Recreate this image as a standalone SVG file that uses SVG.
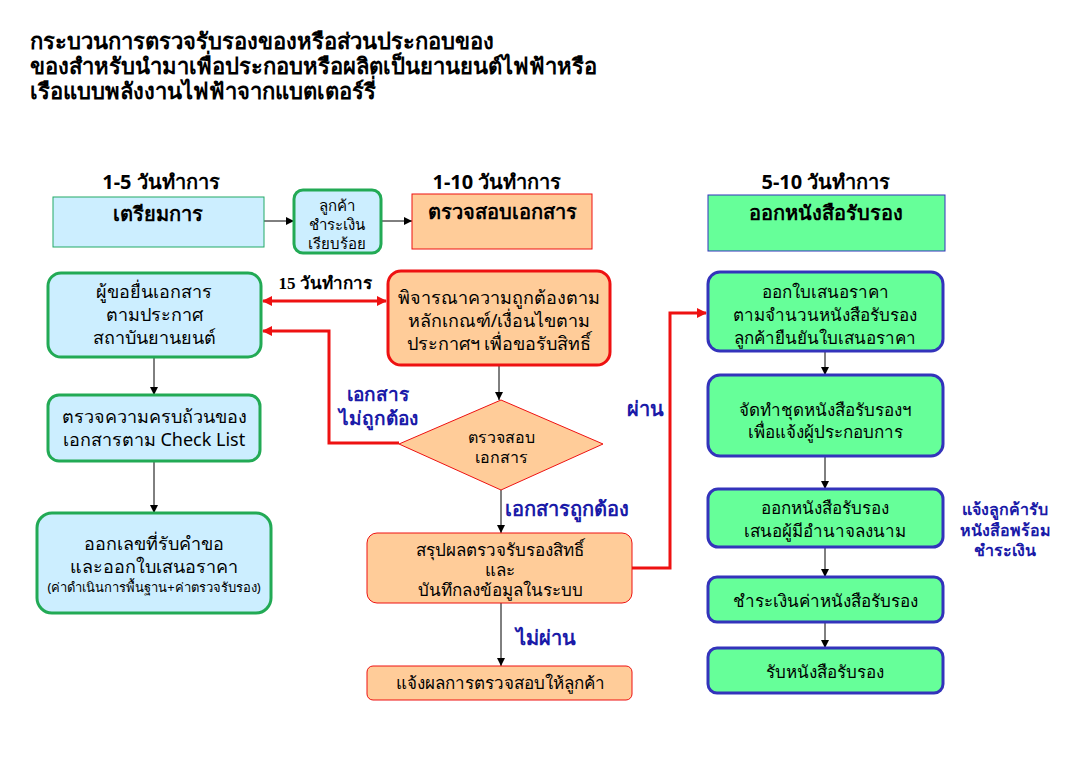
<svg xmlns="http://www.w3.org/2000/svg" width="1085" height="762" viewBox="0 0 1085 762">
<defs>
<marker id="ak" viewBox="0 0 10 10" refX="10" refY="5" markerWidth="8" markerHeight="9" markerUnits="userSpaceOnUse" orient="auto"><path d="M0,0 L10,5 L0,10 z" fill="#000"/></marker>
<marker id="ar" viewBox="0 0 10 10" refX="9" refY="5" markerWidth="11" markerHeight="10" markerUnits="userSpaceOnUse" orient="auto-start-reverse"><path d="M0,0 L10,5 L0,10 z" fill="#ee1111"/></marker>
<style>
text{font-family:"Noto Sans","DejaVu Sans","Liberation Sans",sans-serif;fill:#000;text-anchor:middle}
.t{font-size:22px;font-weight:bold;text-anchor:start}
.h{font-size:20px;font-weight:bold}
.b{font-size:20px;font-weight:bold}
.n{font-size:18px}
.m{font-size:17px}
.s{font-size:13px}
.sm{font-size:15px}
.lb{font-size:20px;font-weight:bold;fill:#1a1aa8}
.lbs{font-size:16px;font-weight:bold;fill:#1a1aa8}
.blue{fill:#cceeff;stroke:#22aa55;stroke-width:3}
.blueT{fill:#cceeff;stroke:#22aa66;stroke-width:1}
.org{fill:#ffcc99;stroke:#ee1111;stroke-width:1}
.orgR{fill:#ffcc99;stroke:#ee1111;stroke-width:3}
.grn{fill:#66ff99;stroke:#3333bb;stroke-width:3}
.grnT{fill:#66ff99;stroke:#3333bb;stroke-width:1}
.k{stroke:#000;stroke-width:1;fill:none;marker-end:url(#ak)}
.r{stroke:#ee1111;stroke-width:3;fill:none}
</style>
</defs>
<rect width="1085" height="762" fill="#fff"/>
<g id="title">
<text class="t" x="30" y="49">กระบวนการตรวจรับรองของหรือส่วนประกอบของ</text>
<text class="t" x="30" y="74">ของสำหรับนำมาเพื่อประกอบหรือผลิตเป็นยานยนต์ไฟฟ้าหรือ</text>
<text class="t" x="30" y="99">เรือแบบพลังงานไฟฟ้าจากแบตเตอร์รี่</text>
</g>
<g id="headers">
<text class="h" x="161" y="189">1-5 วันทำการ</text>
<text class="h" x="497" y="189">1-10 วันทำการ</text>
<text class="h" x="826" y="189">5-10 วันทำการ</text>
</g>
<g id="connectors">
<line class="k" x1="264" y1="221" x2="294" y2="221"/>
<line class="k" x1="381" y1="221" x2="412" y2="221"/>
<line class="k" x1="154" y1="357" x2="154" y2="395"/>
<line class="k" x1="154" y1="461" x2="154" y2="513"/>
<line class="k" x1="499" y1="365" x2="499" y2="400"/>
<line class="k" x1="501" y1="490" x2="501" y2="533"/>
<line class="k" x1="501" y1="603" x2="501" y2="666"/>
<line class="k" x1="825" y1="351" x2="825" y2="375"/>
<line class="k" x1="825" y1="456" x2="825" y2="489"/>
<line class="k" x1="825" y1="547" x2="825" y2="577"/>
<line class="k" x1="825" y1="622" x2="825" y2="648"/>
<line class="r" x1="263" y1="301" x2="386" y2="301" marker-start="url(#ar)" marker-end="url(#ar)"/>
<polyline class="r" points="399,443 329,443 329,331 263,331" marker-end="url(#ar)"/>
<polyline class="r" points="632,568 670,568 670,313 706,313" marker-end="url(#ar)"/>
<text x="325" y="289" style="font-size:17px;font-weight:bold;font-family:'Liberation Serif','Noto Sans',serif">15 วันทำการ</text>
<text class="lb" x="378" y="401" style="font-size:19px">เอกสาร</text>
<text class="lb" x="378" y="425" style="font-size:19px">ไม่ถูกต้อง</text>
<text class="lb" x="567" y="516">เอกสารถูกต้อง</text>
<text class="lb" x="546" y="645">ไม่ผ่าน</text>
<text class="lb" x="645" y="416">ผ่าน</text>
<text class="lbs" x="1005" y="515">แจ้งลูกค้ารับ</text>
<text class="lbs" x="1005" y="536">หนังสือพร้อม</text>
<text class="lbs" x="1005" y="556">ชำระเงิน</text>
</g>
<g id="prep">
<rect class="blueT" x="53" y="197" width="211" height="50"/>
<text class="b" x="158" y="221">เตรียมการ</text>
</g>
<g id="pay">
<rect class="blue" x="294" y="190" width="87" height="63" rx="9"/>
<text class="sm" x="337" y="211">ลูกค้า</text>
<text class="sm" x="337" y="230">ชำระเงิน</text>
<text class="sm" x="337" y="249">เรียบร้อย</text>
</g>
<g id="docs">
<rect class="org" x="412" y="194" width="180" height="55"/>
<text class="b" x="502" y="219">ตรวจสอบเอกสาร</text>
</g>
<g id="issue">
<rect class="grnT" x="708" y="195" width="237" height="56"/>
<text class="b" x="826" y="220">ออกหนังสือรับรอง</text>
</g>
<g id="submit">
<rect class="blue" x="48" y="273" width="213" height="84" rx="13"/>
<text class="n" x="154" y="298">ผู้ขอยื่นเอกสาร</text>
<text class="n" x="154" y="321">ตามประกาศ</text>
<text class="n" x="154" y="344">สถาบันยานยนต์</text>
</g>
<g id="check">
<rect class="blue" x="48" y="395" width="212" height="66" rx="11"/>
<text class="n" x="154" y="423">ตรวจความครบถ้วนของ</text>
<text class="n" x="154" y="446">เอกสารตาม Check List</text>
</g>
<g id="number">
<rect class="blue" x="37" y="513" width="234" height="100" rx="15"/>
<text class="n" x="154" y="550">ออกเลขที่รับคำขอ</text>
<text class="n" x="154" y="573">และออกใบเสนอราคา</text>
<text class="s" x="154" y="592">(ค่าดำเนินการพื้นฐาน+ค่าตรวจรับรอง)</text>
</g>
<g id="consider">
<rect class="orgR" x="388" y="271" width="222" height="94" rx="13"/>
<text class="n" x="499" y="304">พิจารณาความถูกต้องตาม</text>
<text class="n" x="499" y="327">หลักเกณฑ์/เงื่อนไขตาม</text>
<text class="n" x="499" y="350">ประกาศฯ เพื่อขอรับสิทธิ์</text>
</g>
<g id="diamond">
<polygon class="org" points="501,400 603,444 501,490 399,444"/>
<text class="sm" x="501" y="443" style="font-size:16px">ตรวจสอบ</text>
<text class="sm" x="501" y="463" style="font-size:16px">เอกสาร</text>
</g>
<g id="summary">
<rect class="org" x="367" y="533" width="265" height="70" rx="10"/>
<text class="m" x="500" y="556">สรุปผลตรวจรับรองสิทธิ์</text>
<text class="m" x="500" y="576">และ</text>
<text class="m" x="500" y="596">บันทึกลงข้อมูลในระบบ</text>
</g>
<g id="notify">
<rect class="org" x="367" y="666" width="265" height="34" rx="6"/>
<text class="m" x="500" y="689">แจ้งผลการตรวจสอบให้ลูกค้า</text>
</g>
<g id="quote">
<rect class="grn" x="708" y="272" width="235" height="79" rx="12"/>
<text class="m" x="825" y="298">ออกใบเสนอราคา</text>
<text class="m" x="825" y="321">ตามจำนวนหนังสือรับรอง</text>
<text class="m" x="825" y="344">ลูกค้ายืนยันใบเสนอราคา</text>
</g>
<g id="prepare">
<rect class="grn" x="708" y="375" width="235" height="81" rx="12"/>
<text class="m" x="825" y="416">จัดทำชุดหนังสือรับรองฯ</text>
<text class="m" x="825" y="438">เพื่อแจ้งผู้ประกอบการ</text>
</g>
<g id="sign">
<rect class="grn" x="708" y="489" width="235" height="58" rx="10"/>
<text class="m" x="825" y="514">ออกหนังสือรับรอง</text>
<text class="m" x="825" y="537">เสนอผู้มีอำนาจลงนาม</text>
</g>
<g id="payfee">
<rect class="grn" x="708" y="577" width="235" height="45" rx="9"/>
<text class="m" x="825" y="607">ชำระเงินค่าหนังสือรับรอง</text>
</g>
<g id="receive">
<rect class="grn" x="708" y="648" width="235" height="45" rx="9"/>
<text class="m" x="825" y="678">รับหนังสือรับรอง</text>
</g>
</svg>
